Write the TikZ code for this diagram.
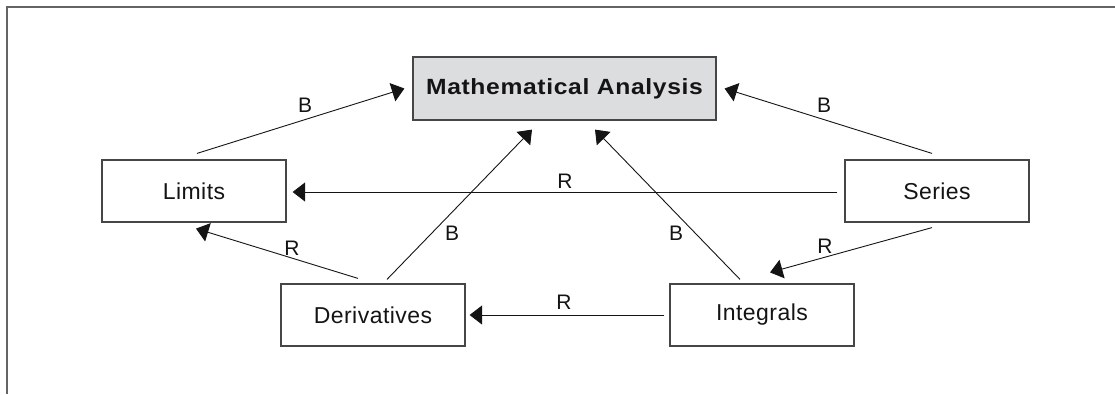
\documentclass[tikz,border=0pt]{standalone}
\usepackage{fontspec}
\setmainfont{Liberation Sans}[LetterSpace=2]
\newfontfamily\mafont{Liberation Sans}[FakeStretch=1.12,LetterSpace=3]
\usetikzlibrary{arrows.meta}
\definecolor{mafill}{RGB}{220,221,223}
\definecolor{ink}{RGB}{20,20,20}
\definecolor{boxline}{RGB}{70,70,70}
\definecolor{frameline}{RGB}{100,100,100}
\tikzset{
  box/.style={draw=boxline, line width=1.2pt, minimum width=184pt, minimum height=62pt, inner sep=0pt,
    text=ink, font=\fontsize{23}{27}\selectfont},
  mabox/.style={draw=boxline, line width=1.2pt, fill=mafill, minimum width=303pt, minimum height=63pt, inner sep=0pt,
    text=ink, font=\mafont\bfseries\fontsize{22}{26}\selectfont},
  arr/.style={draw=ink, line width=0.9pt, -{Triangle[length=12.5pt,width=19pt]}},
  lbl/.style={text=ink, inner sep=0pt, font=\fontsize{21}{24}\selectfont},
  frame/.style={draw=frameline, line width=1.4pt}
}
\begin{document}
\begin{tikzpicture}[x=1pt,y=-1pt]
\useasboundingbox (0,0) rectangle (1115,394);
\draw[frame] (1115,7) -- (7,7) -- (7,394);

\node[mabox] (ma) at (564.5,88.5) {Mathematical Analysis};
\node[box] (lim) at (194,191) {Limits};
\node[box] (ser) at (937,191) {Series};
\node[box] (der) at (373,315) {Derivatives};
\node[box] (int) at (762,315) {Integrals};

\draw[arr] ([shift={(3,-6)}]lim.north) -- ([shift={(-8,0)}]ma.west);
\draw[arr] ([shift={(-5,-6)}]ser.north) -- ([shift={(8,0)}]ma.east);
\draw[arr] ([shift={(14,-4)}]der.north) -- ([shift={(-32.5,9)}]ma.south);
\draw[arr] ([shift={(-22,-4)}]int.north) -- ([shift={(30.5,9)}]ma.south);
\draw[arr] ([shift={(-7,1)}]ser.west) -- ([shift={(6,1)}]lim.east);
\draw[arr] ([shift={(-5,0)}]int.west) -- ([shift={(4,0)}]der.east);
\draw[arr] ([shift={(-15,-5)}]der.north) -- ([shift={(2,6)}]lim.south);
\draw[arr] ([shift={(-5,5)}]ser.south) -- ([shift={(8,-11)}]int.north);

\node[lbl] (b1) at (305,105) {B};
\node[lbl] (b2) at (824,105) {B};
\node[lbl] (b3) at (452,233) {B};
\node[lbl] (b4) at (676,233) {B};
\node[lbl] (r1) at (565,181) {R};
\node[lbl] (r2) at (564,302) {R};
\node[lbl] (r3) at (292,248) {R};
\node[lbl] (r4) at (825,246) {R};
\end{tikzpicture}
\end{document}
